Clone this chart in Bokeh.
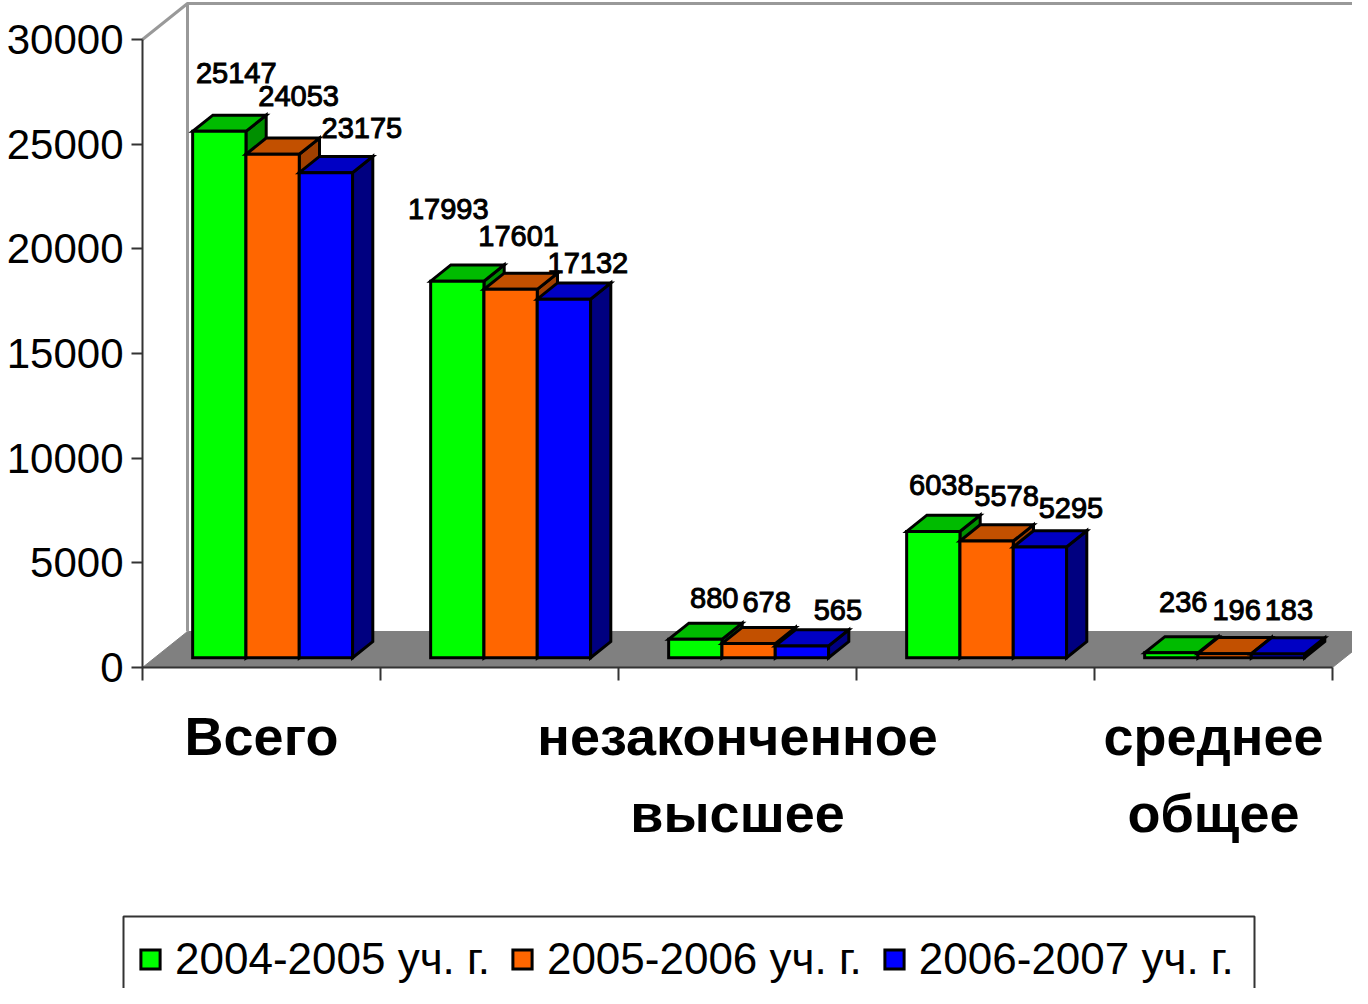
from bokeh.plotting import figure
from bokeh.models import Range1d, LinearAxis, FixedTicker, Legend, LegendItem, ColumnDataSource, BoxAnnotation
from bokeh.embed import file_html
from bokeh.resources import INLINE
from bokeh.core.properties import value

series_names = ["2004-2005 уч. г.", "2005-2006 уч. г.", "2006-2007 уч. г."]
series_2004 = [25147, 17993, 880, 6038, 236]
series_2005 = [24053, 17601, 678, 5578, 196]
series_2006 = [23175, 17132, 565, 5295, 183]
y_ticks = [0, 5000, 10000, 15000, 20000, 25000, 30000]
line1_labels = {0.5: "Всего", 2.5: "незаконченное", 4.5: "среднее"}
line2_labels = {2.5: "высшее", 4.5: "общее"}

# styles and geometry
front = ["#00FF00", "#FF6600", "#0000FF"]
top_c = ["#00BB00", "#C25000", "#0000C4"]
side_c = ["#008F00", "#A04000", "#000080"]
label_dx = [[17, 26, 36], [-9, 8, 24], [19, 18, 36], [8, 20, 31], [12, 12, 11]]
label_dy = [[-58, -58, -45], [-72, -53, -36], [-41, -42, -36], [-46, -45, -39], [-51, -44, -44]]

W, H = 1352, 988
LEFT = 142            # x of category 0 in canvas px (page x 150)
PX_CAT = 238.0        # px per category
PX_VAL = 628 / 30000  # px per value unit
ZERO = 667            # canvas y of value 0
DX = 45 / PX_CAT      # full depth in x
DY = 36 / PX_VAL      # full depth in value units
D0, D1 = 0.27, 0.72   # bar front and back depth
GAP = 38 / PX_CAT
BW = 53.3 / PX_CAT

p = figure(width=W, height=H, output_backend="svg", toolbar_location=None,
           x_range=Range1d(-LEFT / PX_CAT, (W - LEFT) / PX_CAT),
           y_range=Range1d((ZERO - H) / PX_VAL, ZERO / PX_VAL),
           x_axis_type=None, y_axis_type=None,
           min_border_left=0, min_border_right=0, min_border_top=0, min_border_bottom=0,
           outline_line_color=None, background_fill_color="white", border_fill_color="white")
p.grid.visible = False

XMAX = 5.0


def proj(x, v, d):
    return x + d * DX, v + d * DY


# floor
fx, fy = zip(proj(0, 0, 0), proj(0, 0, 1), proj(XMAX, 0, 1), proj(XMAX, 0, 0))
p.patch(list(fx), list(fy), fill_color="#808080", line_color="#808080", line_width=1)

# walls
wx, wy = zip(proj(0, 30000, 0), proj(0, 30000, 1), proj(XMAX, 30000, 1))
p.line(list(wx), list(wy), line_color="#999999", line_width=3)
vx, vy = zip(proj(0, 0, 1), proj(0, 30000, 1))
p.line(list(vx), list(vy), line_color="#999999", line_width=3)

all_series = [series_2004, series_2005, series_2006]
legend_items = []
lab = dict(x=[], y=[], t=[], dx=[], dy=[])
for j, vals in enumerate(all_series):
    fxs, fys, txs, tys, sxs, sys_ = [], [], [], [], [], []
    for i, v in enumerate(vals):
        x0 = i + GAP + j * BW
        x1 = x0 + BW
        a = proj(x0, 0, D0); b = proj(x1, 0, D0); c = proj(x1, v, D0); d = proj(x0, v, D0)
        e = proj(x1, v, D1); f = proj(x0, v, D1); g = proj(x1, 0, D1)
        fxs.append([a[0], b[0], c[0], d[0]]); fys.append([a[1], b[1], c[1], d[1]])
        txs.append([d[0], c[0], e[0], f[0]]); tys.append([d[1], c[1], e[1], f[1]])
        sxs.append([b[0], g[0], e[0], c[0]]); sys_.append([b[1], g[1], e[1], c[1]])
        lab["x"].append((d[0] + c[0]) / 2); lab["y"].append(d[1]); lab["t"].append(str(v))
        lab["dx"].append(label_dx[i][j]); lab["dy"].append(label_dy[i][j])
    p.patches(sxs, sys_, fill_color=side_c[j], line_color="black", line_width=3, line_join="miter")
    p.patches(txs, tys, fill_color=top_c[j], line_color="black", line_width=3, line_join="miter")
    r = p.patches(fxs, fys, fill_color=front[j], line_color="black", line_width=3, line_join="miter")
    legend_items.append(LegendItem(label=series_names[j], renderers=[r]))

p.text("x", "y", text="t", x_offset="dx", y_offset="dy", source=ColumnDataSource(lab),
       text_font=value("Liberation Sans"), text_font_size="29px", text_font_style="normal",
       text_color="black", text_outline_color="black", text_align="center", text_baseline="middle")

# axes
yax = LinearAxis(fixed_location=0, bounds=(0, 30000), ticker=FixedTicker(ticks=y_ticks),
                 major_tick_out=11, major_tick_in=0, minor_tick_line_color=None,
                 axis_line_color="#333333", axis_line_width=2, major_tick_line_color="#333333",
                 major_tick_line_width=2, major_label_standoff=8,
                 major_label_text_font="Liberation Sans", major_label_text_font_size="42px",
                 major_label_text_color="black")
yax.formatter.use_scientific = False
p.add_layout(yax, "left")

xax = LinearAxis(fixed_location=0, bounds=(0, XMAX), ticker=FixedTicker(ticks=[0, 1, 2, 3, 4, 5]),
                 major_label_overrides={i: "" for i in range(6)},
                 major_tick_out=13, major_tick_in=0, minor_tick_line_color=None,
                 axis_line_color="#333333", axis_line_width=2, major_tick_line_color="#333333",
                 major_tick_line_width=2)
p.add_layout(xax, "below")


def label_axis(labels, standoff):
    ax = LinearAxis(fixed_location=0, ticker=FixedTicker(ticks=list(labels.keys())),
                    major_label_overrides=labels, axis_line_color=None,
                    major_tick_line_color=None, minor_tick_line_color=None, major_tick_out=0,
                    major_label_standoff=standoff, major_label_text_font="Liberation Sans",
                    major_label_text_font_style="bold", major_label_text_font_size="54px",
                    major_label_text_color="black")
    p.add_layout(ax, "below")


label_axis(line1_labels, 38)
label_axis(line2_labels, 115)

# legend frame, open at the bottom of the page as in the reference
p.add_layout(BoxAnnotation(left=123, right=1254, top=72, bottom=-30,
                           left_units="screen", right_units="screen", top_units="screen",
                           bottom_units="screen", fill_color=None, line_color="#333333",
                           line_alpha=1, line_width=2))

legend = Legend(items=legend_items, orientation="horizontal", location=(138, 4),
                label_text_font="Liberation Sans", label_text_font_size="44px", label_text_color="black",
                glyph_width=24, glyph_height=24, label_standoff=13, spacing=20, padding=16,
                margin=0, border_line_color=None, background_fill_color=None)
p.add_layout(legend, "center")

open("out.html", "w").write(file_html(p, INLINE))
